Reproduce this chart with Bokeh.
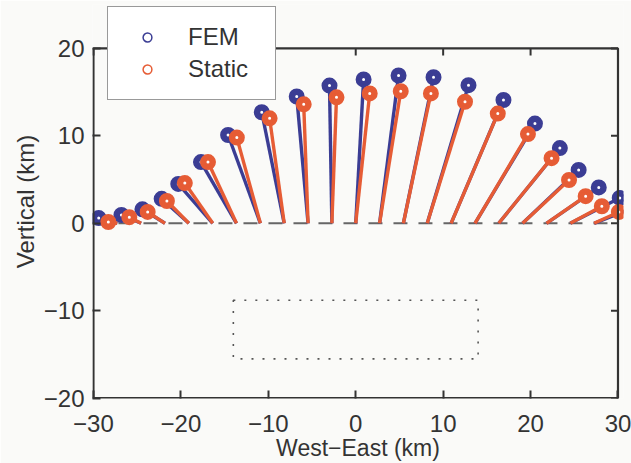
from bokeh.plotting import figure
from bokeh.models import Range1d, FixedTicker, Legend, LegendItem, ColumnDataSource
from bokeh.embed import file_html
from bokeh.resources import INLINE

# surface stations (km) and their elevation
stations = [-27.27, -24.55, -21.82, -19.09, -16.36, -13.64, -10.91, -8.18, -5.45, -2.73,
            0.0, 2.73, 5.45, 8.18, 10.91, 13.64, 16.36, 19.09, 21.82, 24.55, 27.27]
station_z = [0.0] * len(stations)

# displaced positions (scaled) - FEM
fem_x = [-29.4, -26.8, -24.4, -22.2, -20.3, -17.7, -14.6, -10.75, -6.75, -3.0,
         0.9, 4.9, 8.9, 12.9, 16.9, 20.5, 23.35, 25.5, 27.8, 30.2, 32.6]
fem_z = [0.6, 0.95, 1.6, 2.8, 4.5, 7.0, 10.1, 12.7, 14.5, 15.75,
         16.45, 16.9, 16.7, 15.8, 14.1, 11.4, 8.6, 6.1, 4.1, 2.9, 2.1]

# displaced positions (scaled) - Static
static_x = [-28.3, -25.9, -23.8, -21.6, -19.55, -16.9, -13.6, -9.85, -5.95, -2.2,
            1.6, 5.15, 8.6, 12.5, 16.25, 19.7, 22.4, 24.4, 26.3, 28.15, 30.1]
static_z = [0.15, 0.7, 1.3, 2.55, 4.6, 7.0, 9.8, 12.0, 13.6, 14.4,
            14.85, 15.1, 14.85, 13.9, 12.55, 10.2, 7.45, 4.95, 3.1, 1.95, 1.3]

# source outline
source_x = [-14.0, 14.0]
source_z = [-15.5, -8.8]

x_ticks = [-30, -20, -10, 0, 10, 20, 30]
y_ticks = [-20, -10, 0, 10, 20]

BLUE = "#3b3d94"
ORANGE = "#e65c35"
INK = "#333333"
BG = "#fafaf8"
FONT = "Liberation Sans"

def lab(t):
    return str(t).replace("-", "\u2212")

xmin, xmax = x_ticks[0], x_ticks[-1]
ymin, ymax = y_ticks[0], y_ticks[-1]

# frame is a little larger than the axes box, so that the legend can sit above the box
p = figure(width=631, height=463,
           x_range=Range1d(xmin - 0.11, xmax + 0.63),
           y_range=Range1d(ymin - 0.034, ymax + 5.02),
           output_backend="svg", toolbar_location=None,
           min_border_left=92, min_border_right=8, min_border_top=4, min_border_bottom=64,
           background_fill_color=BG, border_fill_color=BG)
p.grid.visible = False
p.outline_line_color = None

for ax, ticks in ((p.xaxis[0], x_ticks), (p.yaxis[0], y_ticks)):
    ax.ticker = FixedTicker(ticks=ticks)
    ax.major_label_overrides = {t: lab(t) for t in ticks}
    ax.major_label_text_font = FONT
    ax.major_label_text_font_size = "24px"
    ax.major_label_text_color = INK
    ax.axis_label_text_font = FONT
    ax.axis_label_text_font_style = "normal"
    ax.axis_label_text_color = INK
    ax.axis_line_color = None
    ax.major_tick_in = 8
    ax.major_tick_out = 0
    ax.major_tick_line_color = INK
    ax.major_tick_line_width = 2
    ax.minor_tick_line_color = None

p.xaxis[0].axis_label = "West\u2212East (km)"
p.xaxis[0].axis_label_text_font_size = "23px"
p.xaxis[0].major_label_standoff = 16
p.xaxis[0].axis_label_standoff = 0
p.yaxis[0].axis_label = "Vertical (km)"
p.yaxis[0].axis_label_text_font_size = "24px"
p.yaxis[0].major_label_standoff = 8
p.yaxis[0].axis_label_standoff = 2

# zero-elevation reference line (dashed)
p.segment(x0=[xmin], y0=[0], x1=[xmax], y1=[0], line_color="#666666",
          line_width=2, line_dash="14 11")

p.quad(left=[source_x[0]], right=[source_x[1]], bottom=[source_z[0]], top=[source_z[1]],
       fill_color=None, line_color="#555555", line_width=1.6, line_dash="2 9")

src = ColumnDataSource(dict(sx=stations, sz=station_z, fx=fem_x, fz=fem_z,
                            ox=static_x, oz=static_z))

p.segment(x0="sx", y0="sz", x1="fx", y1="fz", source=src, line_color=BLUE, line_width=3.4)
p.scatter(x="fx", y="fz", source=src, size=9.5, line_width=6.5, line_color=BLUE,
          fill_color="white", marker="circle")
r_fem = p.scatter(x="fx", y="fz", source=src, size=9, line_width=1.5, line_color=BLUE,
                  fill_color=None, marker="circle")
p.segment(x0="sx", y0="sz", x1="ox", y1="oz", source=src, line_color=ORANGE, line_width=3.4)
p.scatter(x="ox", y="oz", source=src, size=9.5, line_width=6.5, line_color=ORANGE,
          fill_color="white", marker="circle")
r_sta = p.scatter(x="ox", y="oz", source=src, size=9, line_width=1.5, line_color=ORANGE,
                  fill_color=None, marker="circle")

# axes box
p.quad(left=[xmin], right=[xmax], bottom=[ymin], top=[ymax],
       fill_color=None, line_color=INK, line_width=2.2)
# ticks on the top and right sides of the box (pointing inwards)
tick_len = 0.8
p.segment(x0=x_ticks, y0=[ymax] * len(x_ticks), x1=x_ticks, y1=[ymax - tick_len] * len(x_ticks),
          line_color=INK, line_width=2)
p.segment(x0=[xmax] * len(y_ticks), y0=y_ticks, x1=[xmax - tick_len] * len(y_ticks), y1=y_ticks,
          line_color=INK, line_width=2)

legend = Legend(items=[LegendItem(label="FEM", renderers=[r_fem]),
                       LegendItem(label="Static", renderers=[r_sta])],
                location=(15, 298), orientation="vertical")
legend.label_text_font = FONT
legend.label_text_font_size = "24px"
legend.label_text_color = INK
legend.glyph_width = 48
legend.glyph_height = 22
legend.label_height = 30
legend.label_width = 72
legend.label_standoff = 17
legend.padding = 15
legend.spacing = 2
legend.margin = 0
legend.border_line_color = INK
legend.border_line_width = 1.8
legend.background_fill_color = "white"
legend.background_fill_alpha = 1.0
p.add_layout(legend, "center")

open("out.html", "w").write(file_html(p, INLINE))
